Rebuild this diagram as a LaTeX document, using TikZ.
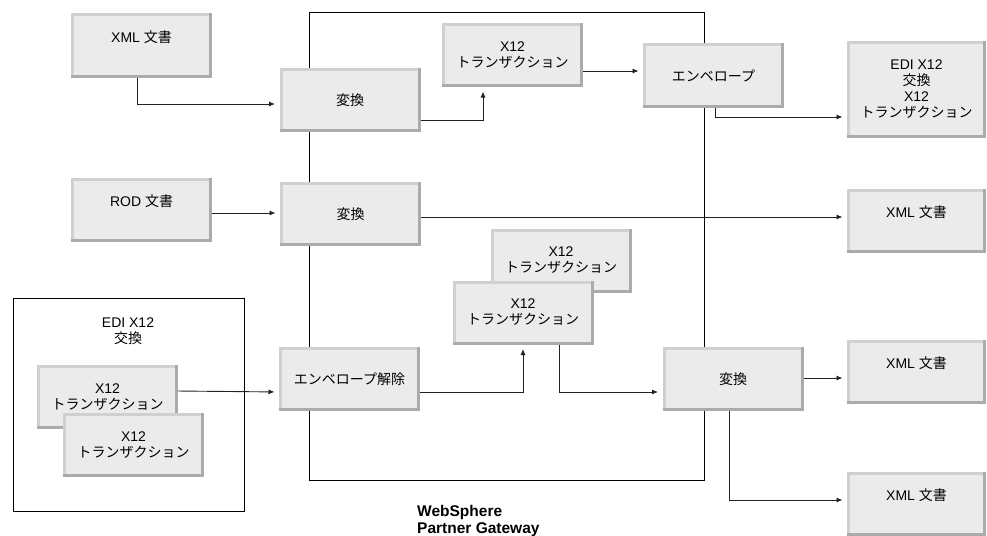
\documentclass[tikz,border=0pt]{standalone}
\usepackage{fontspec}
\setmainfont{Liberation Sans}
\newfontfamily\jp{Noto Sans CJK JP}
\usetikzlibrary{calc,arrows.meta}
\definecolor{boxfill}{HTML}{EBEBEB}
\definecolor{edgelight}{HTML}{D0D0D0}
\definecolor{edgedark}{HTML}{ABABAB}
\definecolor{linec}{HTML}{222222}
\begin{document}
\begin{tikzpicture}[x=1pt,y=-1pt,
  font=\fontsize{14}{16}\selectfont,
  darkedge/.style={draw=edgedark, line width=3pt, line cap=rect, -},
  gbox/.style={fill=boxfill, draw=edgelight, line width=3pt, outer sep=0pt,
    inner sep=2pt, minimum width=138pt, minimum height=61pt, align=center,
    append after command={(\tikzlastnode.south west) edge[darkedge] (\tikzlastnode.south east)
      (\tikzlastnode.south east) edge[darkedge] (\tikzlastnode.north east)}},
  rbox/.style={gbox, minimum width=136pt},
  raised/.style={text depth=18pt},
  frame/.style={draw=black, line width=0.8pt, inner sep=0pt},
  arr/.style={draw=linec, line width=0.9pt, -{Latex[length=6pt,width=5pt]},
    shorten >=6pt, shorten <=1.5pt},
  lbl/.style={align=center, inner sep=0pt}]
\useasboundingbox (0,0) rectangle (987,535);

% frames
\node[frame, minimum width=395pt, minimum height=468pt] (wpg) at (506.5,246) {};
\node[frame, minimum width=231pt, minimum height=213pt] (ediframe) at (128.5,404.5) {};
\node[lbl] (edilbl) at (128,331) {EDI X12\\{\jp 交換}};
\node[anchor=north west, align=left, inner sep=0pt, font=\fontsize{15.5}{17}\selectfont\bfseries] (wpglbl) at (417,505) {WebSphere\\Partner Gateway};

% boxes
\node[gbox, raised] (xml1) at (141.5,45.5) {XML {\jp 文書}};
\node[gbox] (tr1) at (350,100) {{\jp 変換}};
\node[gbox] (x12a) at (512.5,55) {X12\\{\jp トランザクション}};
\node[gbox] (env) at (713.5,75.5) {{\jp エンベロープ}};
\node[rbox, minimum height=94pt] (edi) at (916.5,89.5) {EDI X12\\{\jp 交換}\\X12\\{\jp トランザクション}};
\node[gbox, raised] (rod) at (141.5,210) {ROD {\jp 文書}};
\node[gbox] (tr2) at (350.5,214) {{\jp 変換}};
\node[rbox, raised] (xml2) at (916.5,221) {XML {\jp 文書}};
\node[gbox] (x12b) at (561,260.5) {X12\\{\jp トランザクション}};
\node[gbox] (x12c) at (523,312.5) {X12\\{\jp トランザクション}};
\node[gbox] (unenv) at (349.5,379) {{\jp エンベロープ解除}};
\node[gbox] (tr3) at (733,379) {{\jp 変換}};
\node[rbox, raised] (xml3) at (916.5,372) {XML {\jp 文書}};
\node[rbox, raised] (xml4) at (916.5,504) {XML {\jp 文書}};
\node[gbox] (x12d) at (107.5,397) {X12\\{\jp トランザクション}};
\node[gbox] (x12e) at (133.5,445) {X12\\{\jp トランザクション}};

% connectors
\draw[arr] ($(xml1.south)+(-4.5,0)$) |- ($(tr1.west)+(0,4)$);
\draw[arr] ($(tr1.east)+(0,20)$) -| ($(x12a.south)+(-29.5,0)$);
\draw[arr] ($(x12a.east)+(0,16)$) -- ($(env.west)+(0,-4.5)$);
\draw[arr] ($(env.south)+(1.5,0)$) |- ($(edi.west)+(0,27.5)$);
\draw[arr] ($(rod.east)+(0,3)$) -- ($(tr2.west)+(0,-1)$);
\draw[arr] ($(tr2.east)+(0,3)$) -- ($(xml2.west)+(0,-4)$);
\draw[arr] ($(x12d.east)+(0,-6)$) -- ($(unenv.west)+(0,13)$);
\draw[arr] ($(unenv.east)+(0,13)$) -| (x12c.south);
\draw[arr] ($(x12c.south)+(36,0)$) |- ($(tr3.west)+(0,13)$);
\draw[arr] ($(tr3.east)+(0,-1)$) -- ($(xml3.west)+(0,6)$);
\draw[arr] ($(tr3.south)+(-4,0)$) |- ($(xml4.west)+(0,-4)$);
\end{tikzpicture}
\end{document}
